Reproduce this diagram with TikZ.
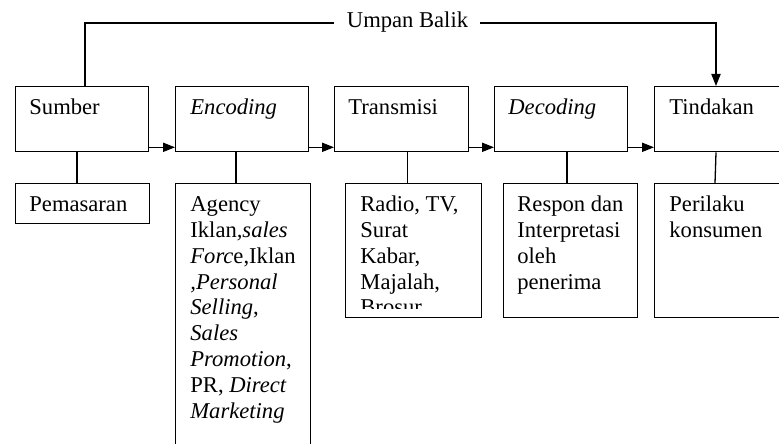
\documentclass[tikz,border=0pt]{standalone}
\usepackage{fontspec}
\setmainfont{Liberation Serif}
\usetikzlibrary{positioning,arrows.meta}

\newcommand{\boxtext}[1]{\begin{tabular}[t]{@{}l@{}}#1\end{tabular}}

\tikzset{
  box/.style={draw, line width=0.65pt, anchor=north west, inner sep=0pt},
  txt/.style={anchor=base west, inner sep=0pt,
    font=\fontsize{11.3}{12.9}\selectfont},
  link/.style={line width=0.65pt},
  flow/.style={link, -{Triangle[length=6pt,width=4.6pt]}}
}

\begin{document}
\begin{tikzpicture}[x=0.5pt,y=-0.5pt]
  % Parameters
  \def\bw{66.5pt}     % width of the upper boxes
  \def\th{32.5pt}     % height of the upper boxes
  \def\lh{67pt}       % height of the lower boxes
  \def\ty{86}         % top of the upper row
  \def\ly{183}        % top of the lower row

  \clip (0,0) rectangle (779,443);

  % Upper row
  \node[box, minimum width=\bw, minimum height=\th] (sumber) at (15,\ty) {};
  \node[box, minimum width=\bw, minimum height=\th] (encoding) at (175,\ty) {};
  \node[box, minimum width=67pt, minimum height=\th] (transmisi) at (334,\ty) {};
  \node[box, minimum width=\bw, minimum height=\th] (decoding) at (494,\ty) {};
  \node[box, minimum width=\bw, minimum height=\th] (tindakan) at (654,\ty) {};

  \node[txt] (tsumber) at ([shift={(7pt,-14.5pt)}]sumber.north west) {Sumber};
  \node[txt] (tencoding) at ([shift={(7.5pt,-14.5pt)}]encoding.north west) {\textit{Encoding}};
  \node[txt] (ttransmisi) at ([shift={(7pt,-14.5pt)}]transmisi.north west) {Transmisi};
  \node[txt] (tdecoding) at ([shift={(7pt,-14.5pt)}]decoding.north west) {\textit{Decoding}};
  \node[txt] (ttindakan) at ([shift={(7.5pt,-14.5pt)}]tindakan.north west) {Tindakan};

  % Lower row
  \node[box, minimum width=67pt, minimum height=20pt] (pemasaran) at (15,\ly) {};
  \node[box, minimum width=67.5pt, minimum height=140pt] (agency) at (175,\ly) {};
  \node[box, minimum width=67.75pt, minimum height=\lh] (media) at (345,\ly) {};
  \node[box, minimum width=67pt, minimum height=\lh] (respon) at (503,\ly) {};
  \node[box, minimum width=67pt, minimum height=\lh] (perilaku) at (654,\ly) {};

  \node[txt] (tpemasaran) at ([shift={(7pt,-14.3pt)}]pemasaran.north west) {Pemasaran};
  \node[txt] (tagency) at ([shift={(7.5pt,-14.3pt)}]agency.north west)
    {\boxtext{Agency\\ Iklan\textit{,sales}\\ \textit{Forc}e,Iklan\\ \textit{,Personal}\\
     \textit{Selling},\\ \textit{Sales}\\ \textit{Promotion},\\ PR, \textit{Direct}\\
     \textit{Marketing}}};
  \begin{scope}
    \clip (345,183) rectangle (481,308);
    \node[txt] (tmedia) at ([shift={(7.5pt,-14.3pt)}]media.north west)
      {\boxtext{Radio, TV,\\ Surat\\ Kabar,\\ Majalah,\\ Brosur}};
  \end{scope}
  \node[txt] (trespon) at ([shift={(7pt,-14.3pt)}]respon.north west)
    {\boxtext{Respon dan\\ Interpretasi\\ oleh\\ penerima}};
  \node[txt] (tperilaku) at ([shift={(7.5pt,-14.3pt)}]perilaku.north west)
    {\boxtext{Perilaku\\ konsumen}};

  % Arrows between the upper boxes
  \draw[flow] ([yshift=2.5pt]sumber.south east) -- ([yshift=2.5pt]encoding.south west);
  \draw[flow] ([yshift=2.5pt]encoding.south east) -- ([yshift=2.5pt]transmisi.south west);
  \draw[flow] ([yshift=2.5pt]transmisi.south east) -- ([yshift=2.5pt]decoding.south west);
  \draw[flow] ([yshift=2.5pt]decoding.south east) -- ([yshift=2.5pt]tindakan.south west);

  % Drops to the lower boxes
  \draw[link] (sumber.south -| 77,0) -- (pemasaran.north -| 77,0);
  \draw[link] (encoding.south -| 236,0) -- (agency.north -| 236,0);
  \draw[link] (transmisi.south -| 407.5,0) -- (media.north -| 407.5,0);
  \draw[link] (decoding.south -| 567,0) -- (respon.north -| 567,0);
  \draw[link] (tindakan.south -| 716,0) -- (perilaku.north -| 715,0);

  % Feedback
  \node[txt, anchor=base] (umpan) at (407.5,27.5) {Umpan Balik};
  \coordinate (fbl) at (85,23);
  \coordinate (fbr) at (716,23);
  \draw[link] (sumber.north -| fbl) -- (fbl) -- ([xshift=-6.5pt]umpan.west |- fbl);
  \draw[flow] ([xshift=6pt]umpan.east |- fbr) -- (fbr) -- (tindakan.north -| fbr);
\end{tikzpicture}
\end{document}
